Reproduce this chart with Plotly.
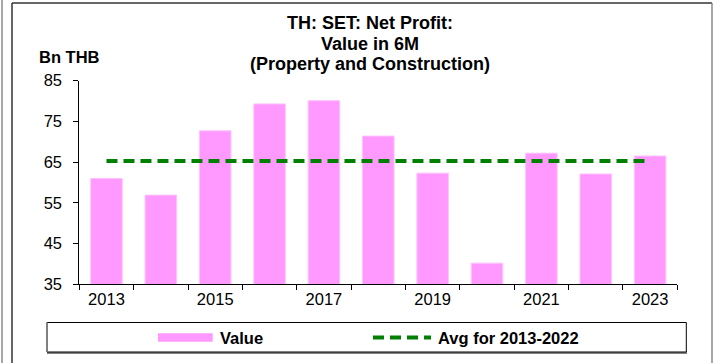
import plotly.graph_objects as go

# Net profit of the Property and Construction sector, first six months (Bn THB)
years = ["2013", "2014", "2015", "2016", "2017", "2018",
         "2019", "2020", "2021", "2022", "2023"]
net_profit = [61.0, 56.9, 72.7, 79.3, 80.1, 71.4, 62.3, 40.2, 67.2, 62.1, 66.5]
avg_2013_2022 = [65.3, 65.3, 65.3, 65.3, 65.3, 65.3, 65.3, 65.3, 65.3, 65.3, 65.3]
tick_text = ["2013", "", "2015", "", "2017", "", "2019", "", "2021", "", "2023"]

W, H = 717, 363
FONT = "Arial, Liberation Sans, sans-serif"
PINK = "#FF99FF"
GREEN = "#008000"


def px(x):
    return x / W


def py(y):
    return 1 - y / H


fig = go.Figure()
fig.add_trace(go.Bar(
    x=years, y=net_profit, name="Value", width=0.58,
    marker=dict(color=PINK, line=dict(color="#FFC2FF", width=1)),
))
fig.add_trace(go.Scatter(
    x=years, y=avg_2013_2022, name="Avg for 2013-2022", mode="lines",
    line=dict(color=GREEN, width=4, dash="11px,6px"),
))

shapes = [
    # outer frame
    dict(type="line", xref="paper", yref="paper", x0=px(2), x1=px(2), y0=0, y1=1,
         line=dict(color="#A8A8A8", width=2)),
    dict(type="line", xref="paper", yref="paper", x0=px(12), x1=px(12), y0=py(3), y1=0,
         line=dict(color="#333333", width=1.5)),
    dict(type="line", xref="paper", yref="paper", x0=px(12), x1=px(712), y0=py(3), y1=py(3),
         line=dict(color="#333333", width=1.5)),
    dict(type="line", xref="paper", yref="paper", x0=px(712), x1=px(712), y0=py(3), y1=0,
         line=dict(color="#8A8A8A", width=1.5)),
    # legend box
    dict(type="line", xref="paper", yref="paper", x0=px(47), x1=px(687), y0=py(353), y1=py(353),
         line=dict(color="#808080", width=2)),
    dict(type="rect", xref="paper", yref="paper", x0=px(47), x1=px(686.3), y0=py(352), y1=py(322.5),
         line=dict(color="#000000", width=1), fillcolor="white"),
    dict(type="line", xref="paper", yref="paper", x0=px(47), x1=px(47), y0=py(352), y1=py(322.5),
         line=dict(color="#808080", width=1.5)),
    # legend keys
    dict(type="rect", xref="paper", yref="paper", x0=px(158), x1=px(212.7), y0=py(341.7), y1=py(333.3),
         line=dict(width=0), fillcolor=PINK),
    dict(type="line", xref="paper", yref="paper", x0=px(373), x1=px(431), y0=py(337.5), y1=py(337.5),
         line=dict(color=GREEN, width=4, dash="11px,6px")),
]

annotations = [
    dict(text="<b>TH: SET: Net Profit:</b>", x=px(370), y=py(23.3)),
    dict(text="<b>Value in 6M</b>", x=px(370), y=py(43.5)),
    dict(text="<b>(Property and Construction)</b>", x=px(370), y=py(63.5)),
]
for a in annotations:
    a.update(xref="paper", yref="paper", xanchor="center", yanchor="middle", showarrow=False,
             font=dict(family=FONT, size=18, color="black"))

annotations += [
    dict(text="<b>Bn THB</b>", x=px(69), y=py(57), xref="paper", yref="paper",
         xanchor="center", yanchor="middle", showarrow=False,
         font=dict(family=FONT, size=16.5, color="black")),
    dict(text="<b>Value</b>", x=px(218), y=py(337.5), xref="paper", yref="paper",
         xanchor="left", yanchor="middle", showarrow=False,
         font=dict(family=FONT, size=16.5, color="black")),
    dict(text="<b>Avg for 2013-2022</b>", x=px(435.5), y=py(337.5), xref="paper", yref="paper",
         xanchor="left", yanchor="middle", showarrow=False,
         font=dict(family=FONT, size=16.5, color="black")),
]

fig.update_layout(
    width=W, height=H,
    margin=dict(l=0, r=0, t=0, b=0),
    paper_bgcolor="white", plot_bgcolor="white",
    showlegend=False,
    font=dict(family=FONT, size=16, color="black"),
    shapes=shapes,
    annotations=annotations,
    xaxis=dict(
        type="category", domain=[px(79.3), px(677.3)], range=[-0.5, 10.5],
        tickmode="array", tickvals=years, ticktext=tick_text, tickson="boundaries",
        ticks="outside", ticklen=5, tickcolor="black", tickwidth=1,
        showline=True, linecolor="black", linewidth=1, showgrid=False,
        tickfont=dict(family=FONT, size=16.5), automargin=False, zeroline=False,
    ),
    yaxis=dict(
        domain=[py(284.3), py(80.7)], range=[35, 85], tickmode="linear", tick0=35, dtick=10,
        ticks="outside", ticklen=5, tickcolor="black", tickwidth=1,
        showline=True, linecolor="black", linewidth=1, showgrid=False, zeroline=False,
        tickfont=dict(family=FONT, size=16.5), ticklabelstandoff=8, automargin=False,
    ),
)

fig.write_html("out.html")
